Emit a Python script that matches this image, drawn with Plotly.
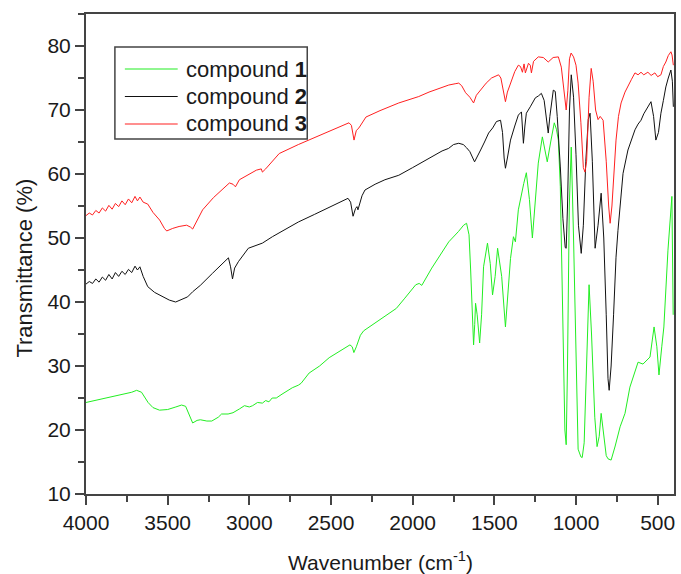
import plotly.graph_objects as go

# ---------------- data ----------------
wn1 = [4000, 3900, 3800, 3720, 3690, 3660, 3620, 3590, 3550, 3500, 3450, 3415, 3390, 3370, 3347,
       3320, 3300, 3260, 3230, 3190, 3170, 3130, 3100, 3060, 3030, 3000, 2980, 2950, 2920, 2900,
       2880, 2860, 2835, 2800, 2737, 2700, 2683, 2634, 2570, 2511, 2450, 2384, 2370, 2360, 2345,
       2320, 2300, 2200, 2100, 2048, 1981, 1960, 1944, 1883, 1830, 1779, 1720, 1688, 1670, 1655,
       1645, 1635, 1627, 1620, 1615, 1605, 1590, 1578, 1566, 1542, 1525, 1511, 1495, 1480, 1455,
       1432, 1415, 1401, 1383, 1371, 1353, 1334, 1320, 1304, 1285, 1267, 1250, 1231, 1206, 1176,
       1155, 1133, 1120, 1108, 1096, 1080, 1068, 1060, 1052, 1041, 1029, 1015, 1000, 987, 970,
       962, 950, 935, 920, 905, 885, 871, 858, 846, 830, 815, 804, 785, 760, 730, 700, 670, 620,
       590, 547, 522, 505, 492, 475, 462, 437, 425, 413, 405]
t1 = [24.3, 24.9, 25.4, 25.9, 26.2, 25.9, 24.3, 23.5, 23.1, 23.2, 23.6, 23.9, 23.7, 22.6, 21.1,
      21.5, 21.6, 21.4, 21.4, 22.0, 22.5, 22.5, 22.7, 23.3, 23.8, 23.6, 23.8, 24.3, 24.2, 24.6,
      24.4, 25.0, 25.0, 25.6, 26.6, 27.0, 27.3, 28.9, 30.0, 31.3, 32.2, 33.3, 33.0, 32.1, 33.0,
      34.8, 35.5, 37.2, 39.0, 40.6, 42.7, 42.9, 42.6, 45.3, 47.4, 49.4, 51.0, 52.0, 52.3, 50.5,
      45.0, 37.0, 33.3, 36.5, 39.8, 38.0, 33.6, 38.0, 45.5, 49.2, 46.0, 41.1, 44.0, 48.4, 44.0,
      36.1, 42.0, 46.8, 50.2, 49.4, 54.4, 56.9, 58.5, 60.2, 56.0, 50.0, 55.0, 61.7, 65.8, 61.9,
      65.0, 68.0, 67.0, 65.3, 58.0, 35.0, 20.0, 17.7, 30.0, 55.0, 64.2, 50.0, 30.0, 17.0, 15.8,
      15.7, 18.0, 30.0, 42.7, 35.0, 22.0, 17.4, 19.0, 22.6, 19.0, 16.0, 15.5, 15.3, 17.5, 20.5,
      22.6, 26.7, 30.6, 30.3, 31.4, 36.1, 33.0, 28.6, 33.0, 36.1, 48.1, 53.0, 56.5, 38.0]

wn2 = [4000, 3980, 3960, 3940, 3920, 3900, 3880, 3860, 3840, 3820, 3800, 3780, 3760, 3740, 3720,
       3700, 3685, 3670, 3650, 3622, 3580, 3530, 3490, 3451, 3420, 3378, 3347, 3300, 3225, 3170,
       3128, 3115, 3103, 3090, 3067, 3006, 2960, 2920, 2859, 2800, 2700, 2600, 2500, 2396, 2380,
       2365, 2350, 2341, 2335, 2310, 2292, 2230, 2170, 2085, 2000, 1950, 1883, 1820, 1780, 1750,
       1718, 1690, 1670, 1650, 1621, 1605, 1584, 1560, 1535, 1510, 1487, 1462, 1450, 1440, 1432,
       1420, 1401, 1375, 1353, 1334, 1322, 1313, 1304, 1280, 1249, 1230, 1212, 1195, 1188, 1178,
       1170, 1160, 1139, 1127, 1115, 1096, 1080, 1066, 1060, 1052, 1040, 1029, 1015, 1000, 985,
       968, 955, 940, 925, 914, 900, 883, 865, 846, 830, 815, 804, 797, 785, 770, 755, 743, 730,
       712, 682, 660, 639, 620, 602, 585, 572, 555, 541, 525, 511, 495, 480, 465, 450, 435, 419,
       410, 404]
t2 = [42.8, 43.2, 42.9, 43.6, 43.1, 43.9, 43.4, 44.3, 43.6, 44.6, 44.0, 44.8, 44.3, 45.1, 44.6,
      45.6, 45.0, 45.5, 44.0, 42.4, 41.5, 40.8, 40.3, 40.0, 40.3, 40.8, 41.6, 42.6, 44.5, 45.8,
      46.9, 45.5, 43.6, 45.3, 46.3, 48.4, 48.8, 49.2, 50.2, 51.1, 52.5, 53.7, 54.9, 56.2, 55.6,
      53.4, 54.6, 54.9, 54.4, 56.6, 57.5, 58.4, 59.1, 59.8, 61.0, 61.7, 62.7, 63.6, 64.0, 64.6,
      64.8, 64.6, 64.1, 63.5, 61.9, 62.8, 63.75, 65.0, 66.4, 67.2, 68.2, 68.4, 66.5, 62.5, 60.9,
      62.5, 65.3, 67.5, 69.2, 69.7, 64.8, 67.5, 69.5, 70.5, 71.9, 72.2, 72.6, 71.5, 70.0, 67.5,
      66.4, 69.0, 73.1, 72.9, 69.0, 61.1, 53.0, 48.5, 48.4, 55.0, 70.0, 75.5, 72.0, 63.0, 52.0,
      47.6, 52.0, 62.0, 68.5, 69.5, 62.0, 48.4, 52.0, 57.0, 50.0, 38.0, 28.0, 26.2, 30.0, 38.0,
      47.0, 51.2, 55.0, 60.1, 63.75, 65.5, 66.9, 67.8, 68.4, 69.4, 70.0, 70.8, 71.3, 69.0, 65.3,
      66.5, 69.5, 71.5, 73.6, 75.0, 76.25, 74.5, 70.5]

wn3 = [4000, 3980, 3960, 3940, 3920, 3900, 3880, 3860, 3840, 3820, 3800, 3780, 3760, 3740, 3720,
       3700, 3685, 3670, 3650, 3622, 3590, 3549, 3520, 3506, 3469, 3430, 3384, 3360, 3347, 3320,
       3286, 3220, 3140, 3122, 3100, 3085, 3061, 3000, 2957, 2927, 2920, 2900, 2859, 2817, 2700,
       2600, 2500, 2450, 2390, 2375, 2359, 2345, 2329, 2286, 2200, 2085, 1963, 1900, 1830, 1779,
       1740, 1718, 1700, 1676, 1650, 1627, 1610, 1584, 1550, 1517, 1474, 1460, 1450, 1432, 1420,
       1401, 1375, 1353, 1340, 1328, 1318, 1310, 1291, 1280, 1273, 1260, 1231, 1200, 1170, 1140,
       1108, 1090, 1075, 1060, 1050, 1040, 1030, 1015, 1000, 987, 970, 955, 945, 935, 920, 907,
       895, 880, 865, 852, 834, 815, 800, 791, 780, 770, 755, 740, 724, 700, 682, 660, 639, 620,
       602, 585, 560, 540, 517, 500, 480, 465, 450, 435, 419, 412, 404]
t3 = [53.5, 53.9, 53.6, 54.3, 53.9, 54.7, 54.2, 55.1, 54.5, 55.4, 54.9, 55.8, 55.2, 56.1, 55.5,
      56.5, 55.8, 56.4, 55.6, 55.3, 54.0, 52.8, 51.5, 51.1, 51.5, 51.8, 52.0, 51.7, 51.4, 52.8,
      54.4, 56.3, 58.3, 58.6, 58.4, 58.0, 59.1, 60.0, 60.6, 60.8, 60.3, 60.8, 62.0, 63.2, 64.6,
      65.7, 66.8, 67.3, 68.0, 67.6, 65.3, 66.8, 67.2, 68.9, 69.9, 71.1, 72.1, 72.8, 73.5, 73.9,
      74.1, 74.2, 73.8, 72.7, 72.0, 71.1, 72.3, 73.1, 74.2, 75.0, 75.5, 75.0, 73.6, 71.3, 72.8,
      74.2, 76.0, 77.0, 76.8, 75.9, 77.2, 75.8, 77.3, 77.0, 75.8, 77.6, 78.3, 78.2, 77.5, 78.2,
      78.3, 76.7, 73.0, 70.0, 73.0, 78.0, 78.9, 78.3, 77.0, 74.2, 68.0, 61.0, 60.3, 62.0, 72.0,
      76.5, 74.5, 70.0, 68.5, 69.0, 68.4, 62.0, 55.0, 52.3, 55.0, 60.0, 65.3, 69.0, 71.1, 72.8,
      73.6, 74.8, 75.8, 75.5, 75.9, 75.5, 75.9, 75.4, 75.8, 75.2, 75.5, 76.8, 77.5, 78.5, 79.1,
      78.6, 77.0]

names = ["compound <b>1</b>", "compound <b>2</b>", "compound <b>3</b>"]
colors = ["#22ee22", "#111111", "#ff2020"]

x_ticks = [4000, 3500, 3000, 2500, 2000, 1500, 1000, 500]
y_ticks = [10, 20, 30, 40, 50, 60, 70, 80]

x_title = "Wavenumber (cm<sup>-1</sup>)"
y_title = "Transmittance (%)"

FONT = "Liberation Sans, Arial, sans-serif"
TXT = "#1a1a1a"

# plot-area geometry (pixels) used only to place the legend box in paper units
L, R, T, B = 86, 676, 14, 494


def px(xp):
    return (xp - L) / (R - L)


def py(yp):
    return (B - yp) / (B - T)


fig = go.Figure()
for wn, t, nm, c in zip([wn1, wn2, wn3], [t1, t2, t3], names, colors):
    fig.add_trace(go.Scatter(x=wn, y=t, mode="lines", name=nm,
                             line=dict(color=c, width=1), showlegend=False))

axis_common = dict(
    showline=True, linecolor="#444444", linewidth=2, mirror=True,
    ticks="outside", ticklen=9, tickwidth=1.5, tickcolor="#444444",
    showgrid=False, zeroline=False,
    tickfont=dict(family=FONT, size=21, color=TXT),
    minor=dict(ticks="outside", ticklen=6, tickwidth=1.5, tickcolor="#444444", showgrid=False),
)

fig.update_xaxes(range=[4000, 400], tickvals=x_ticks, ticktext=[str(v) for v in x_ticks],
                 minor_dtick=250, **axis_common)
fig.update_yaxes(range=[10, 85], tickvals=y_ticks, ticktext=[str(v) for v in y_ticks],
                 minor_dtick=5, **axis_common)

fig.add_annotation(text=x_title, xref="paper", yref="paper", x=0.5, y=-0.1396,
                   xanchor="center", yanchor="middle", showarrow=False,
                   font=dict(family=FONT, size=21, color=TXT))
fig.add_annotation(text=y_title, xref="paper", yref="paper", x=-0.1051, y=0.470,
                   xanchor="center", yanchor="middle", showarrow=False, textangle=-90,
                   font=dict(family=FONT, size=22, color=TXT))

# legend box drawn as shapes + annotations
fig.add_shape(type="rect", xref="paper", yref="paper",
              x0=px(115), x1=px(308), y0=py(139), y1=py(47),
              line=dict(color="#444444", width=1.5), fillcolor="white", layer="above")
for i, (nm, c) in enumerate(zip(names, colors)):
    yc = 69 + i * 27.5
    fig.add_shape(type="line", xref="paper", yref="paper",
                  x0=px(125), x1=px(178), y0=py(yc), y1=py(yc),
                  line=dict(color=c, width=1.2), layer="above")
    fig.add_annotation(text=nm, xref="paper", yref="paper", x=px(184), y=py(yc),
                       xanchor="left", yanchor="middle", showarrow=False,
                       font=dict(family=FONT, size=22, color=TXT))

fig.update_layout(
    width=681, height=574,
    margin=dict(l=L, r=681 - R, t=T, b=574 - B),
    paper_bgcolor="white", plot_bgcolor="white",
    showlegend=False,
)

fig.write_html("out.html")
